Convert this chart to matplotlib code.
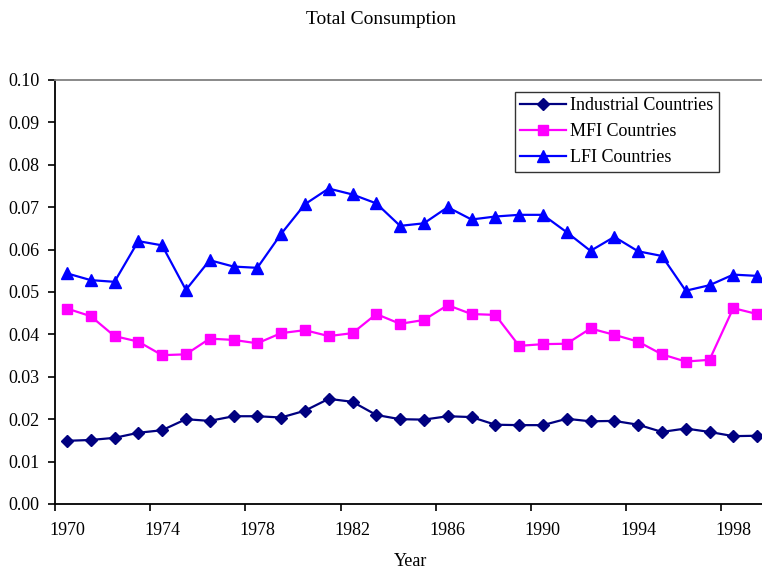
import numpy as np
import matplotlib
matplotlib.use("Agg")
import matplotlib.pyplot as plt
from matplotlib.ticker import FixedLocator, NullFormatter

plt.rcParams['font.family'] = ['Liberation Serif', 'DejaVu Serif']

years = list(range(1970, 2000))
industrial = [0.0149, 0.0151, 0.0156, 0.0168, 0.0174, 0.0200, 0.0196, 0.0207, 0.0207, 0.0204,
              0.0220, 0.0248, 0.0241, 0.0210, 0.0200, 0.0199, 0.0207, 0.0205, 0.0187, 0.0186,
              0.0186, 0.0201, 0.0195, 0.0196, 0.0187, 0.0170, 0.0178, 0.0170, 0.0160, 0.0161]
mfi = [0.0461, 0.0443, 0.0396, 0.0383, 0.0351, 0.0353, 0.0390, 0.0387, 0.0379, 0.0403,
       0.0410, 0.0396, 0.0403, 0.0448, 0.0425, 0.0434, 0.0469, 0.0448, 0.0446, 0.0373,
       0.0377, 0.0378, 0.0414, 0.0399, 0.0383, 0.0353, 0.0336, 0.0340, 0.0462, 0.0448]
lfi = [0.0544, 0.0528, 0.0524, 0.0620, 0.0610, 0.0505, 0.0575, 0.0560, 0.0557, 0.0637,
       0.0707, 0.0744, 0.0730, 0.0709, 0.0656, 0.0662, 0.0700, 0.0671, 0.0678, 0.0682,
       0.0682, 0.0641, 0.0597, 0.0630, 0.0596, 0.0585, 0.0503, 0.0516, 0.0541, 0.0538]
labelled_years = [1970, 1974, 1978, 1982, 1986, 1990, 1994, 1998]

fig = plt.figure(figsize=(7.62, 5.74), dpi=100)
ax = fig.add_axes([55 / 762, 70 / 574, 714 / 762, 424 / 574])

# category axis: points sit in the middle of each year slot
x = np.array(years) + 0.5
ax.plot(x, industrial, color='#000080', marker='D', markersize=6.5, linewidth=1.6,
        label='Industrial Countries')
ax.plot(x, mfi, color='#FF00FF', marker='s', markersize=7.5, linewidth=1.6,
        label='MFI Countries')
ax.plot(x, lfi, color='#0000FF', marker='^', markersize=8, linewidth=1.6,
        label='LFI Countries')

ax.set_xlim(1970, 2000)
ax.set_ylim(0, 0.10)
ax.set_yticks(np.arange(0, 0.101, 0.01))
ax.set_yticklabels([f'{v:.2f}' for v in np.arange(0, 0.101, 0.01)])

ax.xaxis.set_major_locator(FixedLocator(labelled_years))
ax.xaxis.set_major_formatter(NullFormatter())
ax.xaxis.set_minor_locator(FixedLocator([y + 0.5 for y in labelled_years]))
ax.set_xticklabels([str(y) for y in labelled_years], minor=True)
ax.tick_params(axis='x', which='major', direction='out', length=5, width=1.2)
ax.tick_params(axis='x', which='minor', length=0, pad=13, labelsize=13)
ax.tick_params(axis='y', direction='out', length=5, width=1.2, pad=6, labelsize=13)

for side in ['left', 'bottom']:
    ax.spines[side].set_linewidth(1.3)
    ax.spines[side].set_color('black')
ax.spines['top'].set_color('#808080')
ax.spines['top'].set_linewidth(1.3)
ax.spines['right'].set_visible(False)

leg = ax.legend(loc='upper left', bbox_to_anchor=(515 / 762, 1 - 92 / 574),
                bbox_transform=fig.transFigure, fontsize=13, frameon=True, fancybox=False,
                edgecolor='black', handlelength=2.5, borderpad=0.3, labelspacing=0.5,
                handletextpad=0.25, borderaxespad=0)
leg.get_frame().set_linewidth(1.0)

fig.text(0.5, 1 - 19 / 574, 'Total Consumption', ha='center', va='center', fontsize=14)
fig.text(411 / 762, 1 - 562 / 574, 'Year', ha='center', va='center', fontsize=13)

fig.savefig('out.png', dpi=100)
